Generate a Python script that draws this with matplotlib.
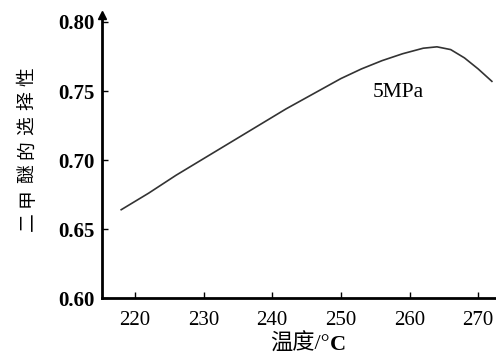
import matplotlib
matplotlib.use("Agg")
import matplotlib.pyplot as plt

# temperature (°C) and DME selectivity
temp = [218, 222, 226, 230, 234, 238, 242, 246, 250, 253, 256, 259, 262, 264, 266, 268, 270, 272]
selectivity = [0.664, 0.676, 0.689, 0.701, 0.713, 0.725, 0.737, 0.748, 0.759, 0.766,
               0.772, 0.777, 0.781, 0.782, 0.780, 0.774, 0.766, 0.757]
xticks = [220, 230, 240, 250, 260, 270]
yticks = [0.60, 0.65, 0.70, 0.75, 0.80]
ylabel = '二甲醚的选择性'

serif = ['Liberation Serif', 'Noto Sans CJK SC']
cjk = ['Noto Sans CJK SC', 'DejaVu Sans']

fig = plt.figure(figsize=(4.96, 3.54), dpi=100)
ax = fig.add_axes([0.2056, 0.158, 0.7944, 0.7994])

ax.plot(temp, selectivity, color='#333333', lw=1.2)
ax.set_xlim(215.2, 272.6)
ax.set_ylim(0.60, 0.805)

for s in ['top', 'right']:
    ax.spines[s].set_visible(False)
for s in ['left', 'bottom']:
    ax.spines[s].set_linewidth(2)
ax.plot(0, 1, marker='^', color='black', markersize=6, transform=ax.transAxes, clip_on=False)

ax.set_xticks(xticks)
ax.set_xticklabels([str(v) for v in xticks], family=serif, fontsize=15)
ax.set_yticks(yticks)
ax.set_yticklabels([f'{v:.2f}' for v in yticks], family=serif, fontsize=15, fontweight='bold')
ax.tick_params(axis='x', direction='in', length=4, width=1, pad=9)
ax.tick_params(axis='y', direction='in', length=4, width=1, pad=5)

ax.text(258.3, 0.7486, '5MPa', family=serif, fontsize=15.5, ha='center', va='center')

# y label: rotated characters, spaced out (pixel positions from the bottom character up)
for i, ch in enumerate(ylabel):
    fig.text(0.054, 1 - (222 - i * 24.2) / 354, ch, family=cjk,
             fontsize=13.5, rotation=90, ha='center', va='center')

t1 = fig.text(0.605, 0.028, '温度/°', family=serif, fontsize=16, ha='center', va='center')
ax.annotate('C', xy=(1, 0), xycoords=t1, family=serif, fontsize=16, fontweight='bold',
            ha='left', va='bottom')

fig.savefig('out.png', dpi=100)
